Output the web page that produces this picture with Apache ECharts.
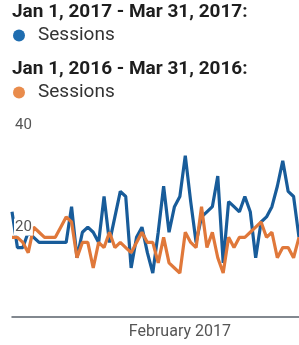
<!DOCTYPE html>
<html><head><meta charset="utf-8">
<script src="https://cdn.jsdelivr.net/npm/echarts@6/dist/echarts.min.js"></script>
<style>html,body{margin:0;padding:0;background:#fff}#c{width:299px;height:345px}</style>
</head><body><div id="c"></div>
<script>
const startDate = '2017-01-01';
const dayCount = 90;
const visibleLastIndex = 53;
const header2017 = 'Jan 1, 2017 - Mar 31, 2017:';
const header2016 = 'Jan 1, 2016 - Mar 31, 2016:';
const seriesLabel = 'Sessions';
const yTickValues = [20, 40];
const sessions2017 = [23,16,16,19,18,17,17,17,17,17,17,24,14,19,20,19,17,26,17,22,27,26,12,18,20,15,11,19,28,19,24,26,34,25,17,22,23,24,30,13,25,24,23,26,23,14,21,22,24,28,33,27,26,18];
const sessions2016 = [18,18,17,15,20,19,18,18,18,20,22,21,14,17,17,12,17,16,19,16,17,16,15,17,19,17,17,13,18,13,12,11,19,17,16,24,16,19,14,11,18,16,18,18,19,20,21,18,19,14,16,16,14,18];
const monthNames = ['January','February','March','April','May','June','July','August','September','October','November','December'];

const days = [];
{
  const d0 = new Date(startDate + 'T00:00:00Z');
  for (let i = 0; i < dayCount; i++) {
    const d = new Date(d0.getTime() + i * 86400000);
    days.push(d.toISOString().slice(0, 10));
  }
}

const chart = echarts.init(document.getElementById('c'), null, {renderer: 'canvas'});
const FONT = 'Roboto';
chart.setOption({
  animation: false,
  backgroundColor: '#fff',
  title: [
    {text: header2017, left: 12, top: 3, padding: 0, textStyle: {fontFamily: FONT, fontSize: 19, fontWeight: 'bold', color: '#1e1e1e'}},
    {text: header2016, left: 12, top: 60, padding: 0, textStyle: {fontFamily: FONT, fontSize: 19, fontWeight: 'bold', color: '#1e1e1e'}}
  ],
  legend: [
    {data: [{name: 's2017', itemStyle: {color: '#1f6db0'}}], left: 13, top: 26, padding: 0, icon: 'circle', itemWidth: 12, itemHeight: 12,
     formatter: () => seriesLabel,
     textStyle: {fontFamily: FONT, fontSize: 19, color: '#333', padding: [0,0,0,8]}},
    {data: [{name: 's2016', itemStyle: {color: '#e98c4c'}}], left: 13, top: 83, padding: 0, icon: 'circle', itemWidth: 12, itemHeight: 12,
     formatter: () => seriesLabel,
     textStyle: {fontFamily: FONT, fontSize: 19, color: '#333', padding: [0,0,0,8]}}
  ],
  grid: {left: 12, right: 0, top: 125, bottom: 28, containLabel: false},
  xAxis: {
    type: 'category', data: days, boundaryGap: false, min: 0, max: visibleLastIndex,
    axisLine: {lineStyle: {color: '#59616b', width: 1.5}},
    axisTick: {show: false},
    splitLine: {show: false},
    axisLabel: {
      interval: (idx, val) => idx > 0 && val.slice(8) === '01',
      formatter: (val) => monthNames[parseInt(val.slice(5, 7), 10) - 1] + ' ' + val.slice(0, 4),
      fontFamily: FONT, fontSize: 16, color: '#555', margin: 7
    }
  },
  yAxis: {
    type: 'value', min: 2.4, max: 40, z: 10,
    axisLine: {show: false}, axisTick: {show: false}, splitLine: {show: false},
    axisLabel: {customValues: yTickValues, inside: true, margin: 2, fontFamily: FONT, fontSize: 15, color: '#555',
      backgroundColor: '#fff', padding: [1, 1, 1, 1]}
  },
  series: [
    {name: 's2017', type: 'line', data: sessions2017, showSymbol: false, color: '#185c9a',
     lineStyle: {width: 3.2, color: '#185c9a'}, z: 2},
    {name: 's2016', type: 'line', data: sessions2016, showSymbol: false, color: '#e0783a',
     lineStyle: {width: 3.2, color: '#e0783a'}, z: 3}
  ]
});
</script></body></html>
